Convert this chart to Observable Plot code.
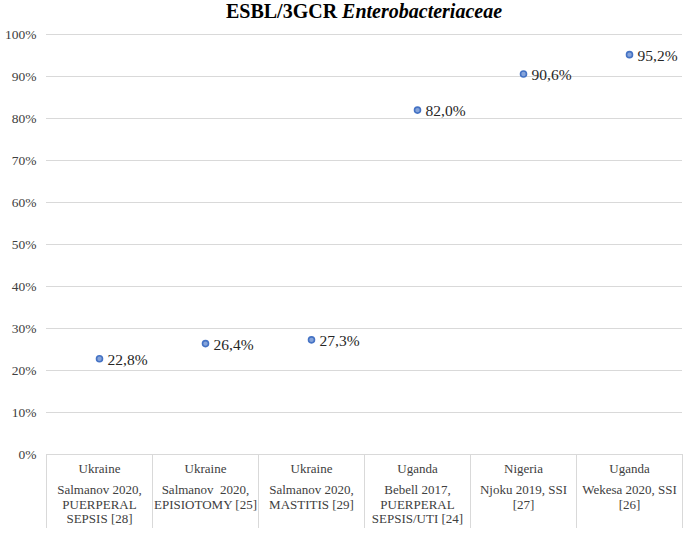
<!DOCTYPE html>
<html>
<head>
<meta charset="utf-8">
<script src="https://cdn.jsdelivr.net/npm/d3@7"></script>
<script src="https://cdn.jsdelivr.net/npm/@observablehq/plot@0.6"></script>
<style>
  body { margin: 0; background: #fff; }
  #title { height: 24px; line-height: 24px; font: bold 20px "Liberation Serif", serif; color: #000;
           padding-left: 46px; width: 636px; text-align: center; white-space: nowrap; }
  #chart svg, #chart svg text { font-family: "Liberation Serif", serif !important; }
</style>
</head>
<body>
<div id="title">ESBL/3GCR <i>Enterobacteriaceae</i></div>
<div id="chart"></div>
<script>
const countries = ["Ukraine", "Ukraine", "Ukraine", "Uganda", "Nigeria", "Uganda"];
const studies = [
  "Salmanov 2020,\nPUERPERAL\nSEPSIS [28]",
  "Salmanov  2020,\nEPISIOTOMY [25]",
  "Salmanov 2020,\nMASTITIS [29]",
  "Bebell 2017,\nPUERPERAL\nSEPSIS/UTI [24]",
  "Njoku 2019, SSI\n[27]",
  "Wekesa 2020, SSI\n[26]"
];
const values = [0.228, 0.264, 0.273, 0.820, 0.906, 0.952];
const yTicks = [0, 0.1, 0.2, 0.3, 0.4, 0.5, 0.6, 0.7, 0.8, 0.9, 1.0];

const data = values.map((v, i) => ({i, pos: i + 0.5, v, country: countries[i], study: studies[i]}));
const edges = d3.range(0, countries.length + 1);
const fmt = v => (v * 100).toFixed(1).replace(".", ",") + "%";
const font = '"Liberation Serif", serif';

const chart = Plot.plot({
  width: 685,
  height: 509,
  marginTop: 10,
  marginBottom: 79,
  marginLeft: 46,
  marginRight: 3,
  style: {fontFamily: font, background: "#fff"},
  x: {domain: [0, countries.length], axis: null},
  y: {domain: [0, 1], axis: null},
  marks: [
    Plot.ruleY(yTicks, {x1: 0, x2: countries.length, y: d => d, stroke: "#d9d9d9", strokeWidth: 1}),
    Plot.ruleX(edges, {x: d => d, y1: 0, y2: 0, insetBottom: -74, stroke: "#d9d9d9", strokeWidth: 1}),
    Plot.text(yTicks, {x: 0, y: d => d, text: d => Math.round(d * 100) + "%", textAnchor: "end", dx: -10,
      fontSize: 13.5, fontFamily: font, fill: "#404040"}),
    Plot.dot(data, {x: "pos", y: "v", r: 3, fill: "#86a4da", stroke: "#4472c4", strokeWidth: 1.6}),
    Plot.text(data, {x: "pos", y: "v", text: d => fmt(d.v), textAnchor: "start", dx: 8, dy: 1,
      fontSize: 15.5, fontFamily: font, fill: "#262626"}),
    Plot.text(data, {x: "pos", text: "country", frameAnchor: "bottom", lineAnchor: "top", dy: 9,
      fontSize: 13, fontFamily: font, fill: "#404040"}),
    Plot.text(data, {x: "pos", text: "study", frameAnchor: "bottom", lineAnchor: "top", dy: 30,
      fontSize: 13, fontFamily: font, lineHeight: 1.08, fill: "#404040"})
  ]
});
document.getElementById("chart").appendChild(chart);
</script>
</body>
</html>
